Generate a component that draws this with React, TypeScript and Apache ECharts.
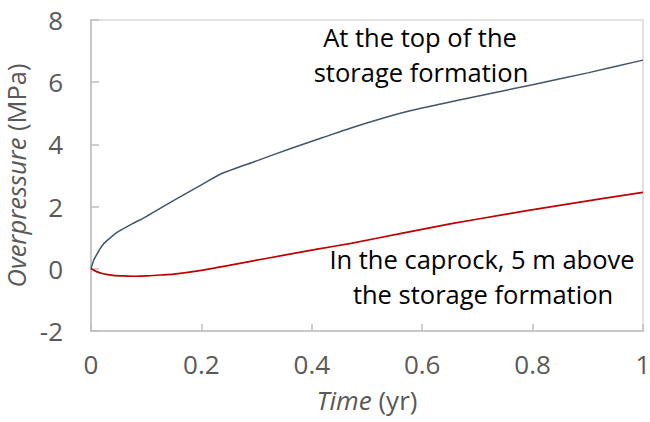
import React, { useEffect, useRef } from "react";
import * as echarts from "echarts";

const xTicks = [0, 0.2, 0.4, 0.6, 0.8, 1];
const yTicks = [-2, 0, 2, 4, 6, 8];

const timeTop = [0, 0.005, 0.01, 0.02, 0.03, 0.05, 0.075, 0.1, 0.15, 0.2, 0.235, 0.3, 0.362, 0.42, 0.471, 0.53, 0.58, 0.634, 0.7, 0.8, 0.9, 1.0];
const overTop = [0, 0.28, 0.45, 0.74, 0.92, 1.2, 1.45, 1.68, 2.2, 2.7, 3.05, 3.47, 3.87, 4.22, 4.53, 4.85, 5.09, 5.3, 5.55, 5.92, 6.3, 6.71];

const timeCap = [0, 0.01, 0.022, 0.04, 0.06, 0.08, 0.1, 0.125, 0.15, 0.2, 0.25, 0.289, 0.35, 0.41, 0.471, 0.56, 0.653, 0.75, 0.835, 0.92, 1.0];
const overCap = [0, -0.09, -0.16, -0.21, -0.23, -0.24, -0.23, -0.2, -0.17, -0.05, 0.11, 0.24, 0.44, 0.63, 0.82, 1.13, 1.45, 1.75, 2.0, 2.24, 2.46];

const labelTop = ["At the top of the", "storage formation"];
const labelCap = ["In the caprock, 5 m above", "the storage formation"];

const FONT = "Open Sans";
const GRAY = "#595959";

export default function App() {
  const ref = useRef<HTMLDivElement>(null);
  useEffect(() => {
    document.body.style.margin = "0";
    const chart = echarts.init(ref.current!, null, { renderer: "svg" });
    const axisLabel = { color: GRAY, fontSize: 26, fontFamily: FONT };
    const nameStyle = (size: number) => ({
      color: GRAY,
      fontSize: size,
      fontFamily: FONT,
      rich: { i: { fontStyle: "italic", color: GRAY, fontSize: size, fontFamily: FONT } },
    });
    chart.setOption({
      animation: false,
      backgroundColor: "#ffffff",
      grid: {
        left: 91,
        right: 7,
        top: 20,
        bottom: 91,
        containLabel: false,
        outerBoundsMode: "none",
        show: true,
        borderColor: "#d9d9d9",
        borderWidth: 1.5,
      },
      xAxis: {
        type: "value",
        min: xTicks[0],
        max: xTicks[xTicks.length - 1],
        interval: 0.2,
        splitLine: { show: false },
        axisLine: { onZero: false, lineStyle: { color: "#bfbfbf", width: 1.5 } },
        axisTick: { inside: true, length: 7, lineStyle: { color: "#bfbfbf", width: 1.5 } },
        axisLabel: { ...axisLabel, margin: 20 },
        name: "{i|Time} (yr)",
        nameLocation: "middle",
        nameGap: 56,
        nameTextStyle: nameStyle(26),
      },
      yAxis: {
        type: "value",
        min: yTicks[0],
        max: yTicks[yTicks.length - 1],
        interval: 2,
        splitLine: { show: false },
        axisLine: { onZero: false, lineStyle: { color: "#bfbfbf", width: 1.5 } },
        axisTick: { inside: true, length: 8, lineStyle: { color: "#bfbfbf", width: 1.5 } },
        axisLabel: { ...axisLabel, margin: 28 },
        name: "{i|Overpressure} (MPa)",
        nameLocation: "middle",
        nameGap: 54,
        nameTextStyle: nameStyle(25.5),
      },
      series: [
        {
          type: "line",
          data: timeTop.map((t, i) => [t, overTop[i]]),
          showSymbol: false,
          smooth: 0.2,
          lineStyle: { color: "#44546a", width: 1.5 },
        },
        {
          type: "line",
          data: timeCap.map((t, i) => [t, overCap[i]]),
          showSymbol: false,
          smooth: 0.2,
          lineStyle: { color: "#c00000", width: 1.7 },
        },
      ],
      graphic: [
        { type: "text", x: 420, y: 37, style: { text: labelTop[0], fill: "#000", fontSize: 25.5, fontFamily: FONT, align: "center", verticalAlign: "middle" } },
        { type: "text", x: 421, y: 72, style: { text: labelTop[1], fill: "#000", fontSize: 25.5, fontFamily: FONT, align: "center", verticalAlign: "middle" } },
        { type: "text", x: 482, y: 258.6, style: { text: labelCap[0], fill: "#000", fontSize: 25.5, fontFamily: FONT, align: "center", verticalAlign: "middle" } },
        { type: "text", x: 483, y: 293.6, style: { text: labelCap[1], fill: "#000", fontSize: 25.5, fontFamily: FONT, align: "center", verticalAlign: "middle" } },
      ],
    });
    return () => chart.dispose();
  }, []);
  return <div ref={ref} style={{ width: 650, height: 422 }} />;
}
